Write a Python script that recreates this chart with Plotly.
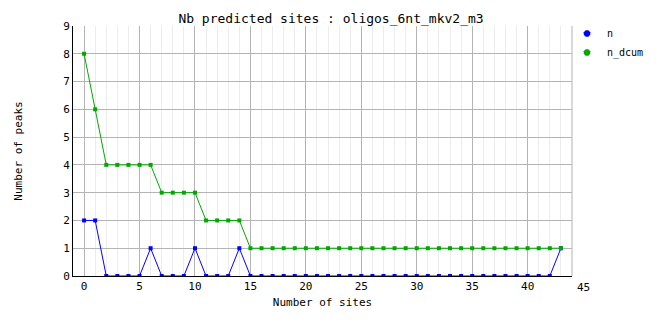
import plotly.graph_objects as go

sites = list(range(0, 44))
n = [2, 2, 0, 0, 0, 0, 1, 0, 0, 0, 1, 0, 0, 0, 1] + [0] * 28 + [1]
n_dcum = [8, 6, 4, 4, 4, 4, 4, 3, 3, 3, 3, 2, 2, 2, 2] + [1] * 29
x_ticks = [0, 5, 10, 15, 20, 25, 30, 35, 40]
y_ticks = list(range(0, 10))
series = [("n", n, "#0000ff"), ("n_dcum", n_dcum, "#00a800")]

FONT = "DejaVu Sans Mono"

fig = go.Figure()
for name, vals, col in series:
    fig.add_trace(go.Scatter(x=sites, y=vals, name=name, mode="lines+markers",
                             line=dict(color=col, width=1), showlegend=False,
                             marker=dict(color=col, size=4, symbol="square")))
for name, vals, col in series:
    fig.add_trace(go.Scatter(x=[None], y=[None], name=name, mode="markers",
                             marker=dict(color=col, size=7, symbol="octagon")))

fig.update_layout(
    width=662, height=328,
    margin=dict(l=73, r=90, t=26, b=52, autoexpand=False),
    paper_bgcolor="white", plot_bgcolor="white",
    font=dict(family=FONT, size=11, color="black"),
    title=dict(text="Nb predicted sites : oligos_6nt_mkv2_m3", x=0.5, xanchor="center",
               y=1 - 18 / 328, yanchor="middle", font=dict(family=FONT, size=13)),
    showlegend=True,
    legend=dict(x=0.99, xanchor="left", y=1.028, yanchor="top",
                font=dict(family=FONT, size=10), itemwidth=30,
                bgcolor="rgba(0,0,0,0)", tracegroupgap=0),
    xaxis=dict(range=[-1, 44], tickvals=x_ticks, ticks="", showline=True, linecolor="black",
               linewidth=1, gridcolor="#b4b4b4", gridwidth=1, zeroline=False,
               minor=dict(dtick=1, tick0=0, showgrid=True, gridcolor="#ececec", gridwidth=1),
               title=dict(text="Number of sites", font=dict(family=FONT, size=11), standoff=6),
               tickfont=dict(family=FONT, size=11)),
    yaxis=dict(range=[0, 9], tickvals=y_ticks, ticks="", showline=True, linecolor="black",
               linewidth=1, gridcolor="#b4b4b4", gridwidth=1, zeroline=False,
               title=dict(text="Number of peaks", font=dict(family=FONT, size=11), standoff=38),
               tickfont=dict(family=FONT, size=11)),
    shapes=[dict(type="line", xref="paper", yref="paper", x0=1, x1=1, y0=0, y1=1,
                 line=dict(color="#b4b4b4", width=1))],
    annotations=[dict(text="45", xref="paper", yref="paper", x=46 / 45, y=0,
                      xanchor="center", yanchor="top",
                      yshift=-3, showarrow=False, font=dict(family=FONT, size=11))],
)

fig.write_html("out.html")
